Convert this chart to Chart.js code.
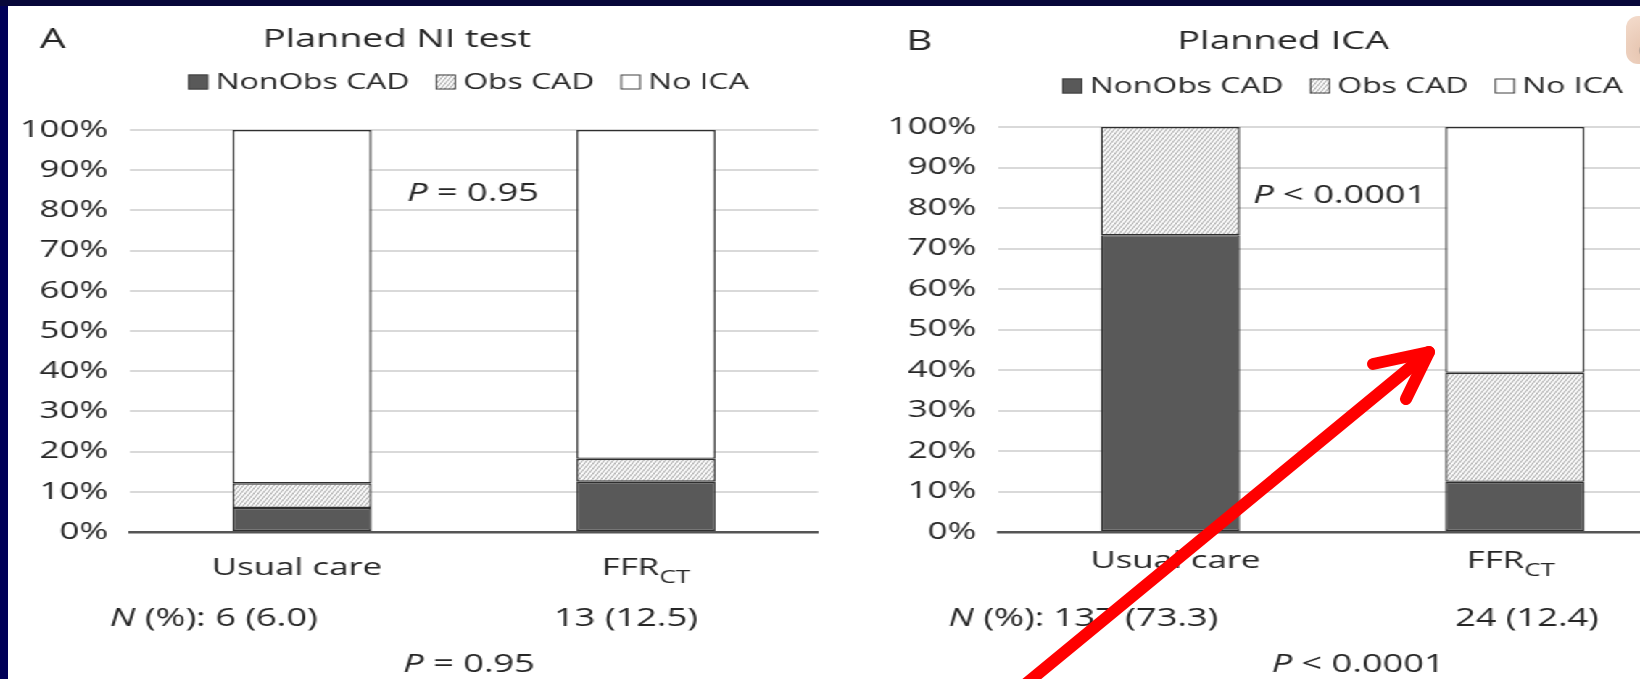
<!DOCTYPE html>
<html>
<head>
<meta charset="utf-8">
<script src="https://cdn.jsdelivr.net/npm/chart.js@4.4.0/dist/chart.umd.min.js"></script>
<style>
  html, body { margin: 0; padding: 0; }
  body { width: 1640px; height: 679px; overflow: hidden; background: #000058; position: relative; }
  #topbar { position: absolute; left: 0; top: 0; width: 1640px; height: 6px; background: #07073a; }
  #panel { position: absolute; left: 8px; top: 6px; width: 1632px; height: 673px; background: #fff; overflow: hidden; }
  #stretch { position: absolute; left: 0; top: 0; height: 673px; transform-origin: 0 0; }
  #stretch canvas { position: absolute; top: 0; }
  #photo { position: absolute; left: 1626px; top: 16px; width: 24px; height: 48px; border-radius: 12px 0 0 12px;
           background: radial-gradient(circle at 85% 72%, #555 0, #777 5px, #e8c8b4 8px, #f4dccd 100%); }
  #arrow { position: absolute; left: 0; top: 0; }
</style>
</head>
<body>
<div id="topbar"></div>
<div id="panel">
  <div id="stretch">
    <canvas id="chartNI"></canvas>
    <canvas id="chartICA"></canvas>
  </div>
</div>
<div id="photo"></div>
<svg id="arrow" width="1640" height="679">
  <line x1="1016" y1="692" x2="1429" y2="352" stroke="#ff0000" stroke-width="12" stroke-linecap="round"/>
  <polyline points="1373,364 1429,352 1406,399" fill="none" stroke="#ff0000" stroke-width="12" stroke-linecap="round" stroke-linejoin="round"/>
</svg>
<script>
// the original figure is stretched sideways; the charts are drawn narrow and scaled by S
const S = 1.45;
const FONT = '"Open Sans", "Noto Sans", sans-serif';
const W = '500';
const TEXT = '#262626';

const categories = ['Usual care', 'FFR'];
const categorySubs = ['', 'CT'];
const seriesNames = ['NonObs CAD', 'Obs CAD', 'No ICA'];
const yTickLabels = ['0%', '10%', '20%', '30%', '40%', '50%', '60%', '70%', '80%', '90%', '100%'];

// panel A: planned non-invasive test (% of patients)
const niNonObs = [6.0, 12.5];
const niObs = [6.1, 5.7];
const niNoIca = [87.9, 81.8];
const niCounts = ['6 (6.0)', '13 (12.5)'];
const niP = '= 0.95';

// panel B: planned ICA (% of patients)
const icaNonObs = [73.3, 12.4];
const icaObs = [26.7, 26.9];
const icaNoIca = [0, 60.7];
const icaCounts = ['137 (73.3)', '24 (12.4)'];
const icaP = '< 0.0001';

const panelA = {
  canvas: 'chartNI', left: 8, width: 822, plotLeft: 130, plotRight: 818, plotTop: 124, plotBottom: 526,
  letter: 'A', letterX: 40, title: 'Planned NI test', titleX: 397, headY: 34,
  legendX: 188, legendY: 76,
  catY: 562, catShift: [-5, 0],
  countY: 613, countLead: -192, countShift: -20,
  pText: niP, pBottomX: 469, pY: 659, pInnerX: 407, pInnerVal: 84,
  nonObs: niNonObs, obs: niObs, noIca: niNoIca, counts: niCounts
};
const panelB = {
  canvas: 'chartICA', left: 830, width: 870, plotLeft: 998, plotRight: 1687, plotTop: 121, plotBottom: 526,
  letter: 'B', letterX: 906, title: 'Planned ICA', titleX: 1283, headY: 36,
  legendX: 1062, legendY: 80,
  catY: 555, catShift: [5, -4],
  countY: 613, countLead: -222, countShift: 12,
  pText: icaP, pBottomX: 1358, pY: 659, pInnerX: 1253, pInnerVal: 83,
  nonObs: icaNonObs, obs: icaObs, noIca: icaNoIca, counts: icaCounts
};

function makeHatch(ctx) {
  const p = document.createElement('canvas');
  p.width = 3; p.height = 5;
  const g = p.getContext('2d');
  g.fillStyle = '#ffffff';
  g.fillRect(0, 0, 3, 5);
  g.strokeStyle = '#999999';
  g.lineWidth = 0.9;
  for (let k = -1; k <= 1; k++) {
    g.beginPath();
    g.moveTo(k * 3, 5);
    g.lineTo(k * 3 + 3, 0);
    g.stroke();
  }
  return ctx.createPattern(p, 'repeat');
}

// text with an italic first letter, e.g. "P = 0.95"
function drawItalicLead(ctx, lead, rest, x, y, size, align) {
  ctx.font = `italic ${W} ${size}px ${FONT}`;
  const w1 = ctx.measureText(lead).width;
  ctx.font = `${W} ${size}px ${FONT}`;
  const w2 = ctx.measureText(rest).width;
  let x0 = x;
  if (align === 'center') x0 = x - (w1 + w2) / 2;
  ctx.textAlign = 'left';
  ctx.font = `italic ${W} ${size}px ${FONT}`;
  ctx.fillText(lead, x0, y);
  ctx.font = `${W} ${size}px ${FONT}`;
  ctx.fillText(rest, x0 + w1, y);
}

function annotations(cfg) {
  const lx = v => (v - cfg.left) / S;
  return {
    id: 'annot' + cfg.letter,
    afterDraw(chart) {
      const ctx = chart.ctx;
      const xs = chart.scales.x;
      const ys = chart.scales.y;
      ctx.save();
      ctx.fillStyle = TEXT;
      ctx.textBaseline = 'middle';

      ctx.font = `${W} 28px ${FONT}`;
      ctx.textAlign = 'left';
      ctx.fillText(cfg.letter, lx(cfg.letterX), cfg.headY);
      ctx.font = `${W} 26px ${FONT}`;
      ctx.textAlign = 'center';
      ctx.fillText(cfg.title, lx(cfg.titleX), cfg.headY);

      // legend
      ctx.font = `${W} 22px ${FONT}`;
      ctx.textAlign = 'left';
      let lxPos = lx(cfg.legendX);
      chart.data.datasets.forEach(ds => {
        ctx.fillStyle = ds.backgroundColor;
        ctx.fillRect(lxPos, cfg.legendY - 7.5, 14, 15);
        ctx.strokeStyle = '#404040';
        ctx.lineWidth = 1;
        ctx.strokeRect(lxPos + 0.5, cfg.legendY - 7, 13, 14);
        ctx.fillStyle = TEXT;
        ctx.fillText(ds.label, lxPos + 19, cfg.legendY + 1);
        lxPos += 19 + ctx.measureText(ds.label).width + 18;
      });

      // category labels under the axis
      categories.forEach((c, i) => {
        const cx = xs.getPixelForValue(i) + cfg.catShift[i] / S;
        ctx.font = `${W} 24px ${FONT}`;
        const w1 = ctx.measureText(c).width;
        ctx.font = `${W} 18px ${FONT}`;
        const w2 = categorySubs[i] ? ctx.measureText(categorySubs[i]).width : 0;
        const x0 = cx - (w1 + w2) / 2;
        ctx.textAlign = 'left';
        ctx.font = `${W} 24px ${FONT}`;
        ctx.fillText(c, x0, cfg.catY);
        if (categorySubs[i]) {
          ctx.font = `${W} 18px ${FONT}`;
          ctx.fillText(categorySubs[i], x0 + w1, cfg.catY + 10);
        }
      });

      // N (%) row
      drawItalicLead(ctx, 'N', ' (%): ' + cfg.counts[0],
        xs.getPixelForValue(0) + cfg.countLead / S, cfg.countY, 25, 'left');
      ctx.font = `${W} 25px ${FONT}`;
      ctx.textAlign = 'center';
      ctx.fillText(cfg.counts[1], xs.getPixelForValue(1) + cfg.countShift / S, cfg.countY);

      // P values
      drawItalicLead(ctx, 'P', ' ' + cfg.pText, lx(cfg.pBottomX), cfg.pY, 25, 'center');
      drawItalicLead(ctx, 'P', ' ' + cfg.pText, lx(cfg.pInnerX), ys.getPixelForValue(cfg.pInnerVal), 25, 'left');
      ctx.restore();
    }
  };
}

function buildChart(cfg) {
  const canvas = document.getElementById(cfg.canvas);
  const w = Math.round(cfg.width / S);
  canvas.width = w;
  canvas.height = 673;
  canvas.style.left = ((cfg.left - 8) / S) + 'px';
  const ctx = canvas.getContext('2d');
  const axisWidth = (cfg.plotLeft - cfg.left) / S;
  const padRight = w - (cfg.plotRight - cfg.left) / S;
  const barStyle = { borderColor: '#2e2e2e', borderWidth: 1.4, borderSkipped: false, categoryPercentage: 1, barPercentage: 0.404 };

  return new Chart(canvas, {
    type: 'bar',
    data: {
      labels: categories,
      datasets: [
        Object.assign({ label: seriesNames[0], data: cfg.nonObs, backgroundColor: '#595959' }, barStyle),
        Object.assign({ label: seriesNames[1], data: cfg.obs, backgroundColor: makeHatch(ctx) }, barStyle),
        Object.assign({ label: seriesNames[2], data: cfg.noIca, backgroundColor: '#ffffff' }, barStyle)
      ]
    },
    options: {
      responsive: false,
      animation: false,
      devicePixelRatio: 1,
      layout: { padding: { top: cfg.plotTop, right: padRight, left: 0, bottom: 0 } },
      plugins: { legend: { display: false }, tooltip: { enabled: false } },
      scales: {
        x: {
          stacked: true,
          grid: { display: false },
          ticks: { display: false },
          border: { display: true, color: '#555555', width: 2.5 },
          afterFit: s => { s.height = 673 - cfg.plotBottom; }
        },
        y: {
          stacked: true,
          min: 0,
          max: 100,
          ticks: {
            stepSize: 10,
            padding: 15,
            color: TEXT,
            font: { family: FONT, size: 24, weight: W },
            callback: (v, i) => yTickLabels[i]
          },
          grid: { color: '#d9d9d9', lineWidth: 2, drawTicks: false },
          border: { display: false },
          afterFit: s => { s.width = axisWidth; }
        }
      }
    },
    plugins: [annotations(cfg)]
  });
}

document.getElementById('stretch').style.width = (1632 / S) + 'px';
document.getElementById('stretch').style.transform = `scaleX(${S})`;
buildChart(panelA);
buildChart(panelB);
</script>
</body>
</html>
